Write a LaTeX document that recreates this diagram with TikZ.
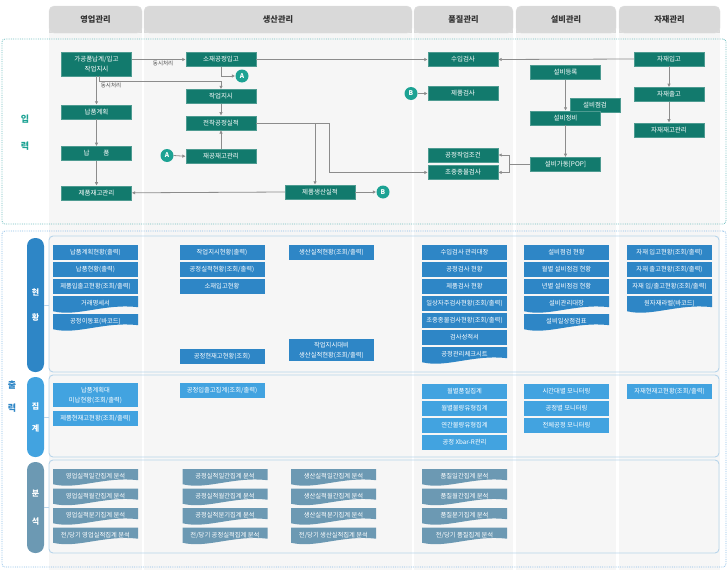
\documentclass[tikz,border=0pt]{standalone}
\usepackage{fontspec}
\setmainfont{Noto Sans CJK KR}
\usepackage{tikz}
\usetikzlibrary{positioning,calc,arrows.meta}

\definecolor{inTeal}{HTML}{127A6D}
\definecolor{dotTeal}{HTML}{1CA293}
\definecolor{stBlue}{HTML}{2E86C6}
\definecolor{sumBlue}{HTML}{42A3E0}
\definecolor{anaBlue}{HTML}{6C99B3}
\definecolor{lineGray}{HTML}{8C8C8C}
\definecolor{hdrGray}{HTML}{D9D9D9}
\definecolor{colGray}{HTML}{F6F6F6}
\definecolor{panelLine}{HTML}{B7D4EA}
\definecolor{inDot}{HTML}{72BEC0}
\definecolor{outDot}{HTML}{8CBDE6}

\tikzset{hdr/.style={fill=hdrGray, draw=black!12, rounded corners=5pt, minimum height=27pt, inner sep=0pt, text=black!80, font=\fontsize{8.2}{9}\selectfont\bfseries}}
\tikzset{inbox/.style={fill=inTeal, draw=inTeal!75!white, line width=0.4pt, text=white, minimum width=70pt, minimum height=14pt, inner sep=1pt, align=center, font=\fontsize{6.5}{10}\selectfont}}
\tikzset{dotnode/.style={circle, fill=dotTeal, text=white, minimum size=13pt, inner sep=0pt, font=\fontsize{6.5}{7}\selectfont\bfseries}}
\tikzset{lbl/.style={inner sep=1pt, text=black!70, font=\fontsize{5.5}{6}\selectfont}}
\tikzset{arr/.style={draw=lineGray, line width=0.8pt, ->, >={Latex[length=3.5pt,width=3.5pt]}}}
\tikzset{outbox/.style={fill=#1, text=white, minimum width=85pt, minimum height=14.5pt, inner sep=1pt, anchor=north, align=center, font=\fontsize{6.3}{10}\selectfont}}
\tikzset{docbox/.style={fill=#1, fill opacity=0, text opacity=1, text=white, minimum width=85pt, inner xsep=1pt, inner ysep=0pt, text height=9.3pt, text depth=7.7pt, anchor=north, font=\fontsize{6.3}{10}\selectfont,
  path picture={\fill[#1, fill opacity=1] (path picture bounding box.north west) -- (path picture bounding box.north east)
    -- ([yshift=6pt]path picture bounding box.south east)
    .. controls ([xshift=-34pt,yshift=10pt]path picture bounding box.south east) and ([xshift=24pt,yshift=-4pt]path picture bounding box.south west) ..
    ([yshift=2pt]path picture bounding box.south west) -- cycle;}}}
\tikzset{panel/.style={draw=panelLine, line width=0.9pt, rounded corners=4pt, inner sep=0pt}}
\tikzset{pill/.style={fill=#1, rounded corners=8pt, minimum width=17pt, inner sep=0pt, text=white, align=center, font=\fontsize{8}{9}\selectfont\bfseries}}
\tikzset{secLabel/.style={inner sep=0pt, align=center, font=\fontsize{9}{10}\selectfont\bfseries}}
\tikzset{region/.style={draw=#1, densely dotted, line width=0.8pt, rounded corners=3pt, inner sep=0pt}}

\begin{document}
\begin{tikzpicture}[x=1pt,y=-1pt]
\useasboundingbox (0,0) rectangle (728,570);

% column bodies and headers
\foreach \xa/\xb in {49/142,144/412,414/513,516/616,619/720}{
  \fill[colGray] (\xa,15) rectangle (\xb,570);
  \fill[hdrGray] (\xa,20) rectangle (\xb,33);
}
\node[hdr, minimum width=93pt] (hSales) at (95.5,19.5) {영업관리};
\node[hdr, minimum width=268pt] (hProd) at (278,19.5) {생산관리};
\node[hdr, minimum width=99pt] (hQual) at (463.5,19.5) {품질관리};
\node[hdr, minimum width=100pt] (hEquip) at (566,19.5) {설비관리};
\node[hdr, minimum width=101pt] (hMat) at (669.5,19.5) {자재관리};

%% input
\node[region=inDot, minimum width=724pt, minimum height=185pt] (regIn) at (364,131.5) {};
\node[secLabel, text=dotTeal] (lblIn) at (25,132.5) {입\\[17pt]력};

\node[inbox, minimum height=24pt] (gagong) at (96.5,64) {가공품납계/입고\\작업지시};
\node[inbox] (napPlan) at (96.5,112) {납품계획};
\node[inbox, below=27pt of napPlan] (napPum) {납\hspace{14pt}품};
\node[inbox, below=25pt of napPum] (prodStock) {제품재고관리};

\node[inbox] (sojae) at (221,59.5) {소재공정입고};
\node[inbox] (workOrd) at (221,96.5) {작업지시};
\node[inbox, below=12pt of workOrd] (jeonchak) {전착공정실적};
\node[inbox, below=19pt of jeonchak] (jaegong) {재공재고관리};
\node[dotnode] (cA1) at (242,76) {A};
\node[dotnode] (cA2) at (167,155.5) {A};
\node[inbox] (prodResult) at (320,192) {제품생산실적};
\node[dotnode] (cB1) at (383,192) {B};

\node[inbox] (incoming) at (463,59.5) {수입검사};
\node[dotnode] (cB2) at (411,93.5) {B};
\node[inbox] (prodInsp) at (463,93.5) {제품검사};
\node[inbox] (procCond) at (463,155) {공정작업조건};
\node[inbox, below=3pt of procCond] (firstMid) {초중종물검사};

\node[inbox] (eqReg) at (565.5,72.5) {설비등록};
\node[inbox, minimum width=50pt] (eqCheck) at (595,105) {설비점검};
\node[inbox] (eqMaint) at (565.5,118) {설비정비};
\node[inbox, below=32pt of eqMaint] (eqRun) {설비가동[POP]};

\node[inbox] (matIn) at (669,59) {자재입고};
\node[inbox, below=21pt of matIn] (matOut) {자재출고};
\node[inbox, below=21pt of matOut] (matStock) {자재재고관리};

% connectors
\draw[arr] (gagong.east |- sojae.west) -- node[lbl, below, pos=0.58] {동시처리} (sojae.west);
\draw[arr] (gagong.south) -- (napPlan.north);
\draw[arr] ([xshift=3pt]gagong.south) -- ++(0,5) node[lbl, anchor=north west] {동시처리} -| (workOrd.north);
\draw[arr] (napPlan) -- (napPum);
\draw[arr] (napPum) -- (prodStock);
\draw[arr] (sojae.east) -- (incoming.west);
\draw[arr] (sojae.south) |- (cA1.west);
\draw[arr] (cA2.east) -- (jaegong.west);
\draw[arr] (jaegong) -- (jeonchak);
\draw[arr] (workOrd) -- (jeonchak);
\draw[arr] (jeonchak.east) -| ([xshift=-5pt]prodResult.north);
\draw[arr] (jeonchak.east) -- ++(73,0) |- (firstMid.west);
\draw[arr] (prodResult.west) -- (prodStock.east);
\draw[arr] (prodResult.east) -- (cB1.west);
\draw[arr] (cB2.east) -- (prodInsp.west);
\draw[arr] (matIn.west) -- (incoming.east);
\draw[arr] (matIn) -- (matOut);
\draw[arr] (matOut) -- (matStock);
\draw[arr] (eqReg.south) -- (eqMaint.north);
\draw[arr] (eqMaint) -- (eqRun);
\coordinate (eqJoin) at ([xshift=-21pt]eqRun.west);
\draw[draw=lineGray, line width=0.8pt] (eqRun.west) -- (eqJoin);
\draw[arr] (eqJoin) |- (procCond.east);
\draw[arr] (eqJoin) |- (firstMid.east);

%% output
\node[region=outDot, minimum width=724pt, minimum height=336pt] (regOut) at (364,399) {};
\node[secLabel, text=stBlue] (lblOut) at (12,396.5) {출\\[13pt]력};

\node[panel, minimum width=670pt, minimum height=136pt] (panStat) at (384,304) {};
\node[panel, minimum width=670pt, minimum height=82pt] (panSum) at (384,416) {};
\node[panel, minimum width=670pt, minimum height=93pt] (panAna) at (384,506.5) {};
\node[pill=stBlue, minimum height=134pt] (pStat) at (35.5,305) {현\\[16pt]황};
\node[pill=sumBlue, minimum height=80pt] (pSum) at (35.5,417) {집\\[13pt]계};
\node[pill=anaBlue, minimum height=91pt] (pAna) at (35.5,507.5) {분\\[19pt]석};
\draw[panelLine, line width=0.9pt] (pStat.east) -- (pStat.east -| panStat.west);
\draw[panelLine, line width=0.9pt] (pSum.east) -- (pSum.east -| panSum.west);
\draw[panelLine, line width=0.9pt] (pAna.east) -- (pAna.east -| panAna.west);

% status
\foreach \txt [count=\i] in {납품계획현황(출력), 납품현황(출력), 제품입출고현황(조회/출력)}
  \node[outbox=stBlue] (stS\i) at (95.5,{245+17*(\i-1)}) {\txt};
\node[docbox=stBlue] (stS4) at (95.5,296) {거래명세서};
\node[docbox=stBlue] (stS5) at (95.5,314) {공정이동표(바코드)};

\foreach \txt [count=\i] in {작업지시현황(출력), 공정실적현황(조회/출력), 소재입고현황}
  \node[outbox=stBlue] (stP\i) at (222,{245+17*(\i-1)}) {\txt};
\node[outbox=stBlue] (stP4) at (222,349) {공정현재고현황(조회)};

\node[outbox=stBlue] (stR1) at (331.5,245) {생산실적현황(조회/출력)};
\node[outbox=stBlue, minimum height=22pt] (stR2) at (331.5,339) {작업지시대비\\생산실적현황(조회/출력)};

\foreach \txt [count=\i] in {수입검사 관리대장, 공정검사 현황, 제품검사 현황, 일상자주검사현황(조회/출력), 초중종물검사현황(조회/출력), 검사성적서}
  \node[outbox=stBlue] (stQ\i) at (464.5,{245+17*(\i-1)}) {\txt};
\node[docbox=stBlue] (stQ7) at (464.5,347) {공정관리체크시트};

\foreach \txt [count=\i] in {설비점검 현황, 월별 설비점검 현황, 년별 설비점검 현황}
  \node[outbox=stBlue] (stE\i) at (566.5,{245+17*(\i-1)}) {\txt};
\node[docbox=stBlue] (stE4) at (566.5,296) {설비관리대장};
\node[docbox=stBlue] (stE5) at (566.5,314) {설비일상점검표};

\foreach \txt [count=\i] in {자재 입고현황(조회/출력), 자재 출고현황(조회/출력), 자재 입/출고현황(조회/출력)}
  \node[outbox=stBlue] (stM\i) at (669.5,{245+17*(\i-1)}) {\txt};
\node[docbox=stBlue] (stM4) at (669.5,296) {원자재라벨(바코드)};

% summary
\node[outbox=sumBlue, minimum height=24pt] (smS1) at (95.5,383) {납품계획대\\미납현황(조회/출력)};
\node[outbox=sumBlue] (smS2) at (95.5,411) {제품현재고현황(조회/출력)};
\node[outbox=sumBlue] (smP1) at (222,383) {공정입출고집계(조회/출력)};
\foreach \txt [count=\i] in {월별품질집계, 월별불량유형집계, 연간불량유형집계, 공정 Xbar-R관리}
  \node[outbox=sumBlue] (smQ\i) at (464.5,{384+17*(\i-1)}) {\txt};
\foreach \txt [count=\i] in {시간대별 모니터링, 공정별 모니터링, 전체공정 모니터링}
  \node[outbox=sumBlue] (smE\i) at (566.5,{384+17*(\i-1)}) {\txt};
\node[outbox=sumBlue] (smM1) at (669.5,384) {자재현재고현황(조회/출력)};

% analysis
\foreach \cx/\pfx [count=\k] in {95.5/영업실적, 225/공정실적, 333.5/생산실적, 464.5/품질}{
  \foreach \sfx [count=\i] in {일간집계 분석, 월간집계 분석, 분기집계 분석}
    \node[docbox=anaBlue] (an\k-\i) at (\cx,{469+19.5*(\i-1)}) {\pfx\sfx};
  \node[docbox=anaBlue] (an\k-4) at (\cx,527.5) {전/당기 \pfx 집계 분석};
}
\end{tikzpicture}
\end{document}
